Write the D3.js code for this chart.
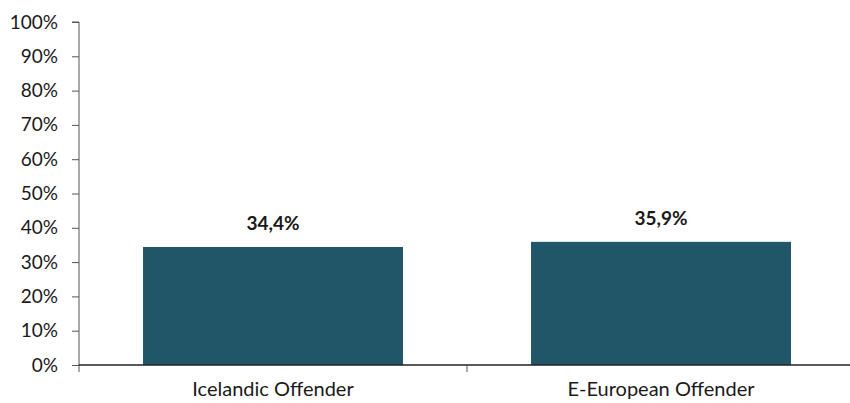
<!DOCTYPE html>
<html>
<head>
<meta charset="utf-8">
<script src="https://cdn.jsdelivr.net/npm/d3@7"></script>
<style>
  body { margin: 0; background: #fff; }
  svg text { font-family: Lato, "Open Sans", sans-serif; fill: #1a1a1a; }
</style>
</head>
<body>
<div id="chart"></div>
<script>
const width = 850;
const height = 403;

const categories = ["Icelandic Offender", "E-European Offender"];
const values = [34.4, 35.9];
const valueLabels = ["34,4%", "35,9%"];
const yTicks = [0, 10, 20, 30, 40, 50, 60, 70, 80, 90, 100];

const axisX = 79;
const axisBottom = 365;
const axisTop = 22;

const svg = d3.select("#chart")
  .append("svg")
  .attr("width", width)
  .attr("height", height);

const x = d3.scaleBand()
  .domain(categories)
  .range([axisX, 855])
  .paddingInner(0.33)
  .paddingOuter(0.165);

const y = d3.scaleLinear()
  .domain([0, 100])
  .range([axisBottom, axisTop]);

// y axis
const yAxis = svg.append("g")
  .attr("transform", `translate(${axisX},0)`)
  .call(d3.axisLeft(y).tickValues(yTicks).tickFormat(d => d + "%").tickSize(7).tickPadding(14));
yAxis.select(".domain").attr("stroke", "#555").attr("d", `M-7,${axisTop}H0V${axisBottom + 7}`);
yAxis.selectAll(".tick line").attr("stroke", "#555");
yAxis.selectAll(".tick text")
  .style("font-size", "19px")
  .attr("fill", "#1a1a1a");

// bars
svg.selectAll(".bar")
  .data(values)
  .enter()
  .append("rect")
  .attr("class", "bar")
  .attr("x", (d, i) => x(categories[i]))
  .attr("y", d => y(d))
  .attr("width", x.bandwidth())
  .attr("height", d => y(0) - y(d))
  .attr("fill", "#215668");

// value labels
svg.selectAll(".val")
  .data(values)
  .enter()
  .append("text")
  .attr("class", "val")
  .attr("x", (d, i) => x(categories[i]) + x.bandwidth() / 2)
  .attr("y", d => y(d) - 17)
  .attr("text-anchor", "middle")
  .style("font-size", "19px")
  .style("font-weight", "bold")
  .text((d, i) => valueLabels[i]);

// x axis
const xAxis = svg.append("g")
  .attr("transform", `translate(0,${axisBottom})`)
  .call(d3.axisBottom(x).tickSize(0).tickPadding(17));
xAxis.select(".domain").attr("stroke", "#222").attr("stroke-width", 1.5)
  .attr("d", `M${axisX},0H${width}`);
xAxis.selectAll(".tick text")
  .style("font-size", "20px")
  .attr("fill", "#1a1a1a");

// middle category separator tick
svg.append("line")
  .attr("x1", (x(categories[0]) + x.bandwidth() + x(categories[1])) / 2)
  .attr("x2", (x(categories[0]) + x.bandwidth() + x(categories[1])) / 2)
  .attr("y1", axisBottom)
  .attr("y2", axisBottom + 7)
  .attr("stroke", "#555");
</script>
</body>
</html>
